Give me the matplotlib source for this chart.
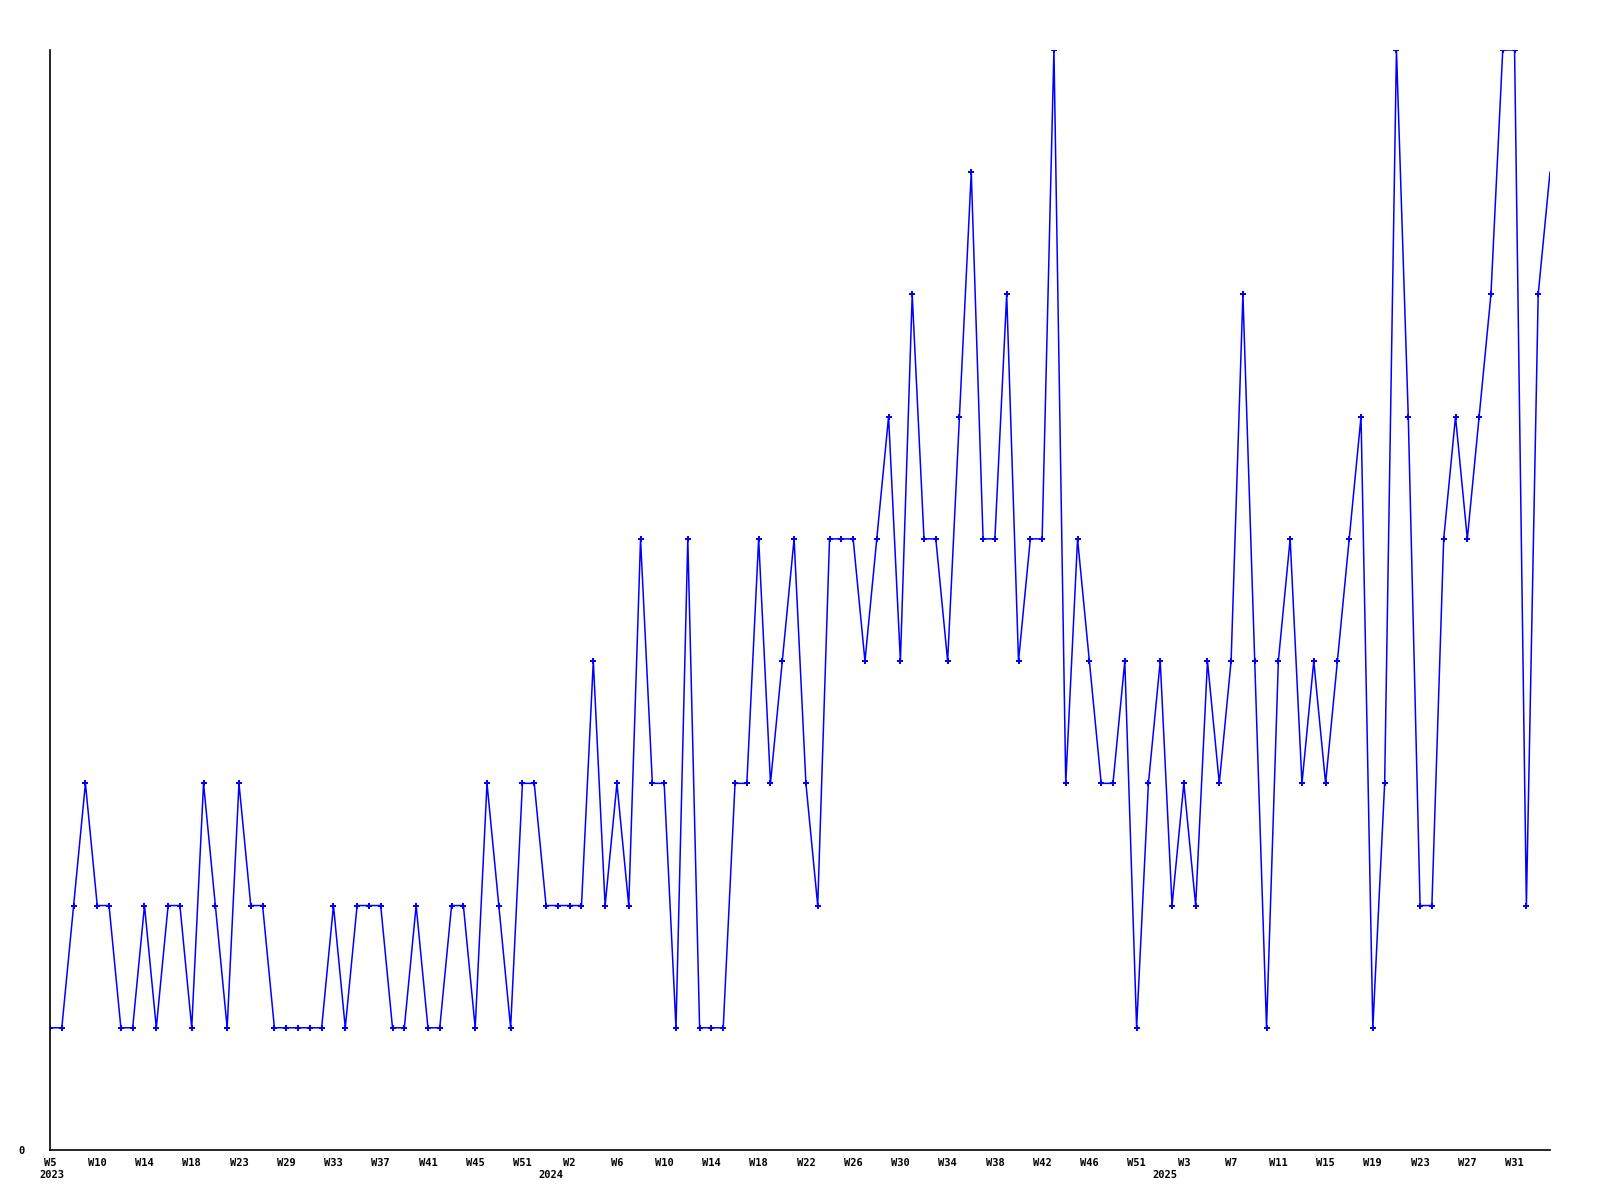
import matplotlib
matplotlib.use("Agg")
import matplotlib.pyplot as plt
import matplotlib.transforms as mtransforms

values = [1, 1, 2, 3, 2, 2, 1, 1, 2, 1,
          2, 2, 1, 3, 2, 1, 3, 2, 2, 1,
          1, 1, 1, 1, 2, 1, 2, 2, 2, 1,
          1, 2, 1, 1, 2, 2, 1, 3, 2, 1,
          3, 3, 2, 2, 2, 2, 4, 2, 3, 2,
          5, 3, 3, 1, 5, 1, 1, 1, 3, 3,
          5, 3, 4, 5, 3, 2, 5, 5, 5, 4,
          5, 6, 4, 7, 5, 5, 4, 6, 8, 5,
          5, 7, 4, 5, 5, 9, 3, 5, 4, 3,
          3, 4, 1, 3, 4, 2, 3, 2, 4, 3,
          4, 7, 4, 1, 4, 5, 3, 4, 3, 4,
          5, 6, 1, 3, 9, 6, 2, 2, 5, 6,
          5, 6, 7, 9, 9, 2, 7, 8]

week_labels = ["W5", "W10", "W14", "W18", "W23", "W29", "W33", "W37", "W41", "W45",
               "W51", "W2", "W6", "W10", "W14", "W18", "W22", "W26", "W30", "W34",
               "W38", "W42", "W46", "W51", "W3", "W7", "W11", "W15", "W19", "W23",
               "W27", "W31"]
year_labels = ["2023", "2024", "2025"]
year_label_slots = [0, 11, 24]   # which week label each year sits under
label_step = 4

x = list(range(len(values)))

fig = plt.figure(figsize=(16, 12), dpi=100)
ax = fig.add_axes([50 / 1600, 50 / 1200, 1500 / 1600, 1100 / 1200])

ax.plot(x, values, color="#0000ff", linewidth=1.1, marker="P", markersize=4,
        markeredgewidth=0, markevery=list(range(len(values) - 1)), clip_on=True)

ax.set_xlim(0, len(values) - 1)
ax.set_ylim(0, 9)

for s in ["top", "right"]:
    ax.spines[s].set_visible(False)
for s in ["left", "bottom"]:
    ax.spines[s].set_color("black")
    ax.spines[s].set_linewidth(1.2)

font = dict(fontfamily="DejaVu Sans Mono", fontweight="bold", fontsize=7.5)

tick_pos = [i * label_step for i in range(len(week_labels))]
ax.set_xticks(tick_pos)
ax.set_xticklabels(week_labels, ha="center", **font)
ax.tick_params(axis="x", length=0, pad=6)

blend = mtransforms.blended_transform_factory(ax.transData, ax.transAxes)
for k, (yr, slot) in enumerate(zip(year_labels, year_label_slots)):
    if k == 0:
        tr = mtransforms.offset_copy(blend, fig=fig, x=-11, y=-20, units="dots")
        ha = "left"
    else:
        tr = mtransforms.offset_copy(blend, fig=fig, x=-6, y=-20, units="dots")
        ha = "right"
    ax.text(tick_pos[slot], 0, yr, transform=tr, ha=ha, va="top", clip_on=False, **font)

ax.set_yticks([0])
ax.set_yticklabels(["0"], **font)
ax.tick_params(axis="y", length=0, pad=18)

fig.savefig("out.png", dpi=100, facecolor="white")
